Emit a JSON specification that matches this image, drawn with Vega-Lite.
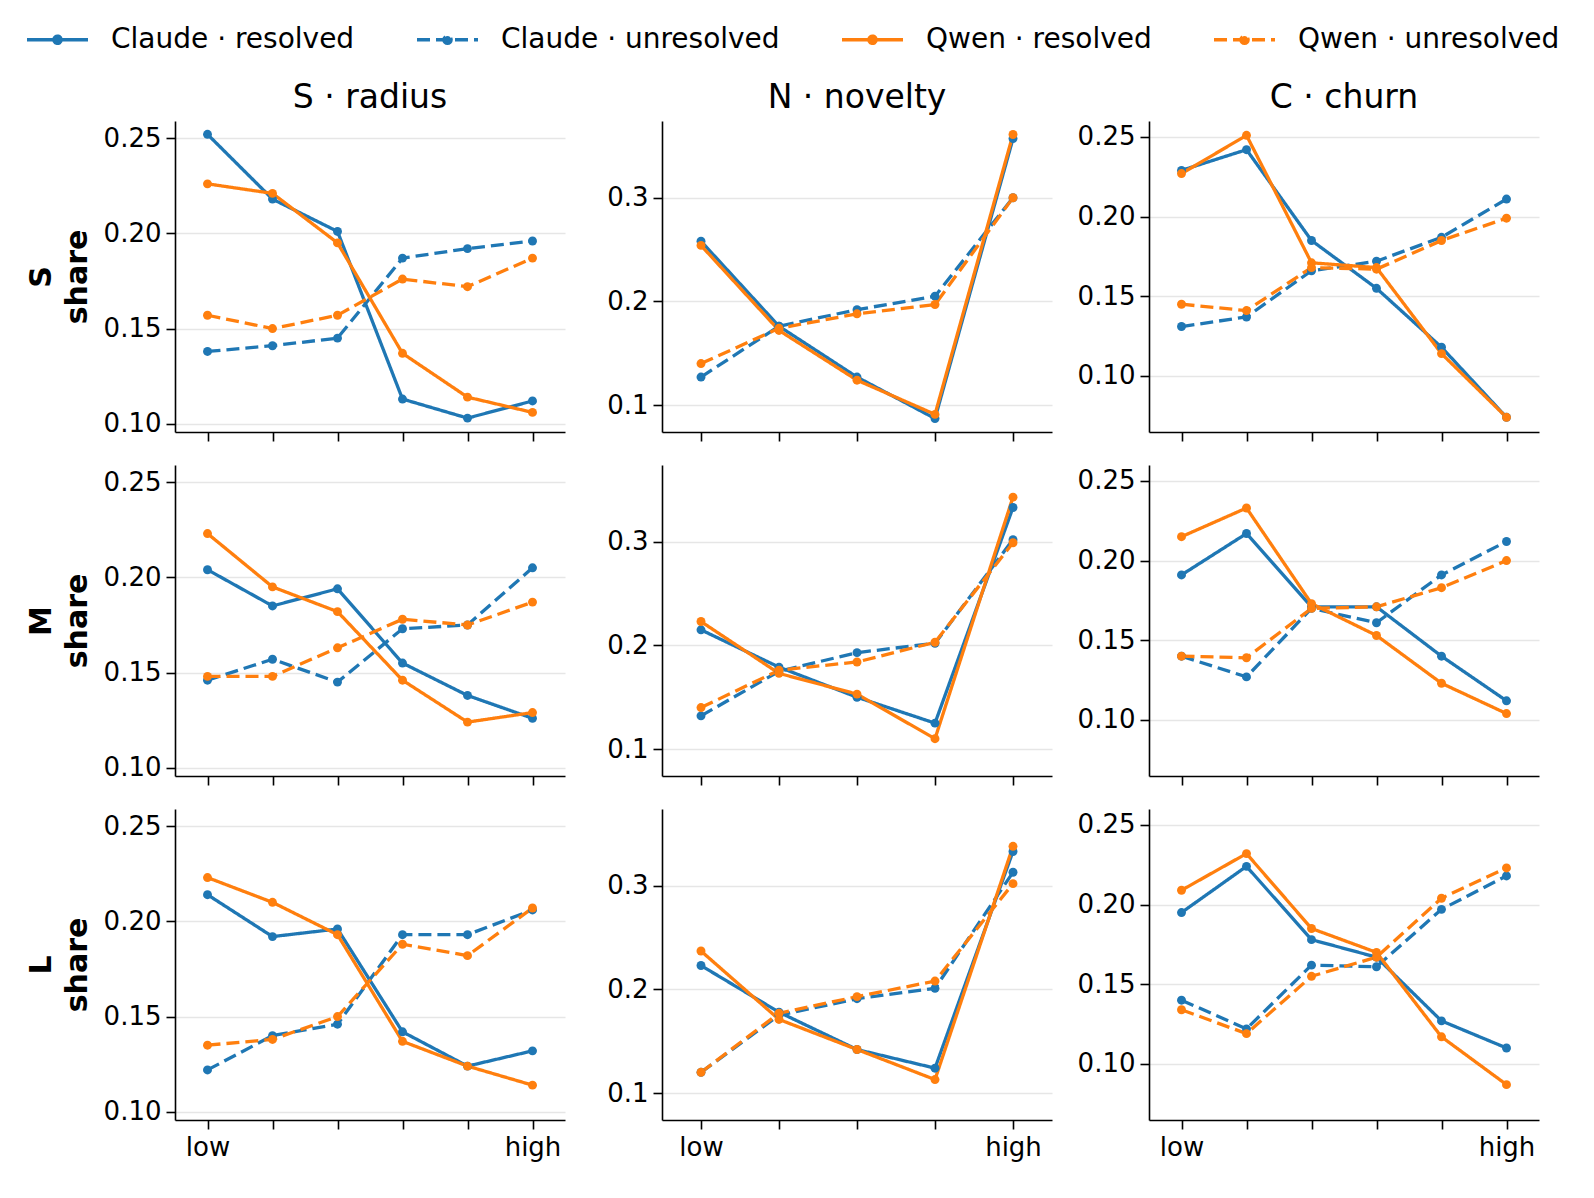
{
  "$schema": "https://vega.github.io/schema/vega-lite/v6.json",
  "padding": {"left": 25, "top": 7, "right": 5, "bottom": 5},
  "config": {
    "font": "DejaVu Sans",
    "view": {"stroke": null},
    "axis": {
      "domainColor": "black", "domainWidth": 1.6,
      "tickColor": "black", "tickWidth": 1.6, "tickSize": 9,
      "labelFontSize": 26, "labelColor": "black", "labelPadding": 5,
      "gridColor": "#e6e6e6", "gridWidth": 1.5,
      "titleFontSize": 30, "titleFontWeight": "bold", "titleColor": "black",
      "titleLineHeight": 36, "titlePadding": 11
    },
    "axisX": {"grid": false},
    "title": {"fontSize": 33, "fontWeight": "normal", "frame": "group", "offset": 6, "color": "black"},
    "legend": {
      "orient": "none", "legendX": -150, "legendY": -114,
      "direction": "horizontal", "columns": 4, "title": null,
      "symbolSize": 3721, "symbolStrokeWidth": 3.3, "labelFontSize": 28, "labelLimit": 500,
      "labelColor": "black", "columnPadding": 55, "labelOffset": 21
    }
  },
  "data": {
    "values": [
      {"dim": "radius", "size": "S", "series": "Claude · resolved", "bin": 0, "share": 0.252},
      {"dim": "radius", "size": "S", "series": "Claude · resolved", "bin": 1, "share": 0.218},
      {"dim": "radius", "size": "S", "series": "Claude · resolved", "bin": 2, "share": 0.201},
      {"dim": "radius", "size": "S", "series": "Claude · resolved", "bin": 3, "share": 0.113},
      {"dim": "radius", "size": "S", "series": "Claude · resolved", "bin": 4, "share": 0.103},
      {"dim": "radius", "size": "S", "series": "Claude · resolved", "bin": 5, "share": 0.112},
      {"dim": "radius", "size": "S", "series": "Claude · unresolved", "bin": 0, "share": 0.138},
      {"dim": "radius", "size": "S", "series": "Claude · unresolved", "bin": 1, "share": 0.141},
      {"dim": "radius", "size": "S", "series": "Claude · unresolved", "bin": 2, "share": 0.145},
      {"dim": "radius", "size": "S", "series": "Claude · unresolved", "bin": 3, "share": 0.187},
      {"dim": "radius", "size": "S", "series": "Claude · unresolved", "bin": 4, "share": 0.192},
      {"dim": "radius", "size": "S", "series": "Claude · unresolved", "bin": 5, "share": 0.196},
      {"dim": "radius", "size": "S", "series": "Qwen · resolved", "bin": 0, "share": 0.226},
      {"dim": "radius", "size": "S", "series": "Qwen · resolved", "bin": 1, "share": 0.221},
      {"dim": "radius", "size": "S", "series": "Qwen · resolved", "bin": 2, "share": 0.195},
      {"dim": "radius", "size": "S", "series": "Qwen · resolved", "bin": 3, "share": 0.137},
      {"dim": "radius", "size": "S", "series": "Qwen · resolved", "bin": 4, "share": 0.114},
      {"dim": "radius", "size": "S", "series": "Qwen · resolved", "bin": 5, "share": 0.106},
      {"dim": "radius", "size": "S", "series": "Qwen · unresolved", "bin": 0, "share": 0.157},
      {"dim": "radius", "size": "S", "series": "Qwen · unresolved", "bin": 1, "share": 0.150},
      {"dim": "radius", "size": "S", "series": "Qwen · unresolved", "bin": 2, "share": 0.157},
      {"dim": "radius", "size": "S", "series": "Qwen · unresolved", "bin": 3, "share": 0.176},
      {"dim": "radius", "size": "S", "series": "Qwen · unresolved", "bin": 4, "share": 0.172},
      {"dim": "radius", "size": "S", "series": "Qwen · unresolved", "bin": 5, "share": 0.187},

      {"dim": "radius", "size": "M", "series": "Claude · resolved", "bin": 0, "share": 0.204},
      {"dim": "radius", "size": "M", "series": "Claude · resolved", "bin": 1, "share": 0.185},
      {"dim": "radius", "size": "M", "series": "Claude · resolved", "bin": 2, "share": 0.194},
      {"dim": "radius", "size": "M", "series": "Claude · resolved", "bin": 3, "share": 0.155},
      {"dim": "radius", "size": "M", "series": "Claude · resolved", "bin": 4, "share": 0.138},
      {"dim": "radius", "size": "M", "series": "Claude · resolved", "bin": 5, "share": 0.126},
      {"dim": "radius", "size": "M", "series": "Claude · unresolved", "bin": 0, "share": 0.146},
      {"dim": "radius", "size": "M", "series": "Claude · unresolved", "bin": 1, "share": 0.157},
      {"dim": "radius", "size": "M", "series": "Claude · unresolved", "bin": 2, "share": 0.145},
      {"dim": "radius", "size": "M", "series": "Claude · unresolved", "bin": 3, "share": 0.173},
      {"dim": "radius", "size": "M", "series": "Claude · unresolved", "bin": 4, "share": 0.175},
      {"dim": "radius", "size": "M", "series": "Claude · unresolved", "bin": 5, "share": 0.205},
      {"dim": "radius", "size": "M", "series": "Qwen · resolved", "bin": 0, "share": 0.223},
      {"dim": "radius", "size": "M", "series": "Qwen · resolved", "bin": 1, "share": 0.195},
      {"dim": "radius", "size": "M", "series": "Qwen · resolved", "bin": 2, "share": 0.182},
      {"dim": "radius", "size": "M", "series": "Qwen · resolved", "bin": 3, "share": 0.146},
      {"dim": "radius", "size": "M", "series": "Qwen · resolved", "bin": 4, "share": 0.124},
      {"dim": "radius", "size": "M", "series": "Qwen · resolved", "bin": 5, "share": 0.129},
      {"dim": "radius", "size": "M", "series": "Qwen · unresolved", "bin": 0, "share": 0.148},
      {"dim": "radius", "size": "M", "series": "Qwen · unresolved", "bin": 1, "share": 0.148},
      {"dim": "radius", "size": "M", "series": "Qwen · unresolved", "bin": 2, "share": 0.163},
      {"dim": "radius", "size": "M", "series": "Qwen · unresolved", "bin": 3, "share": 0.178},
      {"dim": "radius", "size": "M", "series": "Qwen · unresolved", "bin": 4, "share": 0.175},
      {"dim": "radius", "size": "M", "series": "Qwen · unresolved", "bin": 5, "share": 0.187},

      {"dim": "radius", "size": "L", "series": "Claude · resolved", "bin": 0, "share": 0.214},
      {"dim": "radius", "size": "L", "series": "Claude · resolved", "bin": 1, "share": 0.192},
      {"dim": "radius", "size": "L", "series": "Claude · resolved", "bin": 2, "share": 0.196},
      {"dim": "radius", "size": "L", "series": "Claude · resolved", "bin": 3, "share": 0.142},
      {"dim": "radius", "size": "L", "series": "Claude · resolved", "bin": 4, "share": 0.124},
      {"dim": "radius", "size": "L", "series": "Claude · resolved", "bin": 5, "share": 0.132},
      {"dim": "radius", "size": "L", "series": "Claude · unresolved", "bin": 0, "share": 0.122},
      {"dim": "radius", "size": "L", "series": "Claude · unresolved", "bin": 1, "share": 0.140},
      {"dim": "radius", "size": "L", "series": "Claude · unresolved", "bin": 2, "share": 0.146},
      {"dim": "radius", "size": "L", "series": "Claude · unresolved", "bin": 3, "share": 0.193},
      {"dim": "radius", "size": "L", "series": "Claude · unresolved", "bin": 4, "share": 0.193},
      {"dim": "radius", "size": "L", "series": "Claude · unresolved", "bin": 5, "share": 0.206},
      {"dim": "radius", "size": "L", "series": "Qwen · resolved", "bin": 0, "share": 0.223},
      {"dim": "radius", "size": "L", "series": "Qwen · resolved", "bin": 1, "share": 0.210},
      {"dim": "radius", "size": "L", "series": "Qwen · resolved", "bin": 2, "share": 0.193},
      {"dim": "radius", "size": "L", "series": "Qwen · resolved", "bin": 3, "share": 0.137},
      {"dim": "radius", "size": "L", "series": "Qwen · resolved", "bin": 4, "share": 0.124},
      {"dim": "radius", "size": "L", "series": "Qwen · resolved", "bin": 5, "share": 0.114},
      {"dim": "radius", "size": "L", "series": "Qwen · unresolved", "bin": 0, "share": 0.135},
      {"dim": "radius", "size": "L", "series": "Qwen · unresolved", "bin": 1, "share": 0.138},
      {"dim": "radius", "size": "L", "series": "Qwen · unresolved", "bin": 2, "share": 0.150},
      {"dim": "radius", "size": "L", "series": "Qwen · unresolved", "bin": 3, "share": 0.188},
      {"dim": "radius", "size": "L", "series": "Qwen · unresolved", "bin": 4, "share": 0.182},
      {"dim": "radius", "size": "L", "series": "Qwen · unresolved", "bin": 5, "share": 0.207},

      {"dim": "novelty", "size": "S", "series": "Claude · resolved", "bin": 0, "share": 0.258},
      {"dim": "novelty", "size": "S", "series": "Claude · resolved", "bin": 1, "share": 0.176},
      {"dim": "novelty", "size": "S", "series": "Claude · resolved", "bin": 2, "share": 0.127},
      {"dim": "novelty", "size": "S", "series": "Claude · resolved", "bin": 3, "share": 0.087},
      {"dim": "novelty", "size": "S", "series": "Claude · resolved", "bin": 4, "share": 0.357},
      {"dim": "novelty", "size": "S", "series": "Claude · unresolved", "bin": 0, "share": 0.127},
      {"dim": "novelty", "size": "S", "series": "Claude · unresolved", "bin": 1, "share": 0.176},
      {"dim": "novelty", "size": "S", "series": "Claude · unresolved", "bin": 2, "share": 0.192},
      {"dim": "novelty", "size": "S", "series": "Claude · unresolved", "bin": 3, "share": 0.205},
      {"dim": "novelty", "size": "S", "series": "Claude · unresolved", "bin": 4, "share": 0.300},
      {"dim": "novelty", "size": "S", "series": "Qwen · resolved", "bin": 0, "share": 0.254},
      {"dim": "novelty", "size": "S", "series": "Qwen · resolved", "bin": 1, "share": 0.172},
      {"dim": "novelty", "size": "S", "series": "Qwen · resolved", "bin": 2, "share": 0.124},
      {"dim": "novelty", "size": "S", "series": "Qwen · resolved", "bin": 3, "share": 0.091},
      {"dim": "novelty", "size": "S", "series": "Qwen · resolved", "bin": 4, "share": 0.361},
      {"dim": "novelty", "size": "S", "series": "Qwen · unresolved", "bin": 0, "share": 0.140},
      {"dim": "novelty", "size": "S", "series": "Qwen · unresolved", "bin": 1, "share": 0.174},
      {"dim": "novelty", "size": "S", "series": "Qwen · unresolved", "bin": 2, "share": 0.188},
      {"dim": "novelty", "size": "S", "series": "Qwen · unresolved", "bin": 3, "share": 0.197},
      {"dim": "novelty", "size": "S", "series": "Qwen · unresolved", "bin": 4, "share": 0.300},

      {"dim": "novelty", "size": "M", "series": "Claude · resolved", "bin": 0, "share": 0.215},
      {"dim": "novelty", "size": "M", "series": "Claude · resolved", "bin": 1, "share": 0.179},
      {"dim": "novelty", "size": "M", "series": "Claude · resolved", "bin": 2, "share": 0.150},
      {"dim": "novelty", "size": "M", "series": "Claude · resolved", "bin": 3, "share": 0.125},
      {"dim": "novelty", "size": "M", "series": "Claude · resolved", "bin": 4, "share": 0.333},
      {"dim": "novelty", "size": "M", "series": "Claude · unresolved", "bin": 0, "share": 0.132},
      {"dim": "novelty", "size": "M", "series": "Claude · unresolved", "bin": 1, "share": 0.175},
      {"dim": "novelty", "size": "M", "series": "Claude · unresolved", "bin": 2, "share": 0.193},
      {"dim": "novelty", "size": "M", "series": "Claude · unresolved", "bin": 3, "share": 0.202},
      {"dim": "novelty", "size": "M", "series": "Claude · unresolved", "bin": 4, "share": 0.302},
      {"dim": "novelty", "size": "M", "series": "Qwen · resolved", "bin": 0, "share": 0.223},
      {"dim": "novelty", "size": "M", "series": "Qwen · resolved", "bin": 1, "share": 0.173},
      {"dim": "novelty", "size": "M", "series": "Qwen · resolved", "bin": 2, "share": 0.153},
      {"dim": "novelty", "size": "M", "series": "Qwen · resolved", "bin": 3, "share": 0.110},
      {"dim": "novelty", "size": "M", "series": "Qwen · resolved", "bin": 4, "share": 0.343},
      {"dim": "novelty", "size": "M", "series": "Qwen · unresolved", "bin": 0, "share": 0.140},
      {"dim": "novelty", "size": "M", "series": "Qwen · unresolved", "bin": 1, "share": 0.176},
      {"dim": "novelty", "size": "M", "series": "Qwen · unresolved", "bin": 2, "share": 0.184},
      {"dim": "novelty", "size": "M", "series": "Qwen · unresolved", "bin": 3, "share": 0.203},
      {"dim": "novelty", "size": "M", "series": "Qwen · unresolved", "bin": 4, "share": 0.299},

      {"dim": "novelty", "size": "L", "series": "Claude · resolved", "bin": 0, "share": 0.223},
      {"dim": "novelty", "size": "L", "series": "Claude · resolved", "bin": 1, "share": 0.178},
      {"dim": "novelty", "size": "L", "series": "Claude · resolved", "bin": 2, "share": 0.142},
      {"dim": "novelty", "size": "L", "series": "Claude · resolved", "bin": 3, "share": 0.124},
      {"dim": "novelty", "size": "L", "series": "Claude · resolved", "bin": 4, "share": 0.333},
      {"dim": "novelty", "size": "L", "series": "Claude · unresolved", "bin": 0, "share": 0.120},
      {"dim": "novelty", "size": "L", "series": "Claude · unresolved", "bin": 1, "share": 0.175},
      {"dim": "novelty", "size": "L", "series": "Claude · unresolved", "bin": 2, "share": 0.191},
      {"dim": "novelty", "size": "L", "series": "Claude · unresolved", "bin": 3, "share": 0.201},
      {"dim": "novelty", "size": "L", "series": "Claude · unresolved", "bin": 4, "share": 0.313},
      {"dim": "novelty", "size": "L", "series": "Qwen · resolved", "bin": 0, "share": 0.237},
      {"dim": "novelty", "size": "L", "series": "Qwen · resolved", "bin": 1, "share": 0.171},
      {"dim": "novelty", "size": "L", "series": "Qwen · resolved", "bin": 2, "share": 0.142},
      {"dim": "novelty", "size": "L", "series": "Qwen · resolved", "bin": 3, "share": 0.113},
      {"dim": "novelty", "size": "L", "series": "Qwen · resolved", "bin": 4, "share": 0.338},
      {"dim": "novelty", "size": "L", "series": "Qwen · unresolved", "bin": 0, "share": 0.120},
      {"dim": "novelty", "size": "L", "series": "Qwen · unresolved", "bin": 1, "share": 0.177},
      {"dim": "novelty", "size": "L", "series": "Qwen · unresolved", "bin": 2, "share": 0.193},
      {"dim": "novelty", "size": "L", "series": "Qwen · unresolved", "bin": 3, "share": 0.208},
      {"dim": "novelty", "size": "L", "series": "Qwen · unresolved", "bin": 4, "share": 0.302},

      {"dim": "churn", "size": "S", "series": "Claude · resolved", "bin": 0, "share": 0.229},
      {"dim": "churn", "size": "S", "series": "Claude · resolved", "bin": 1, "share": 0.242},
      {"dim": "churn", "size": "S", "series": "Claude · resolved", "bin": 2, "share": 0.185},
      {"dim": "churn", "size": "S", "series": "Claude · resolved", "bin": 3, "share": 0.155},
      {"dim": "churn", "size": "S", "series": "Claude · resolved", "bin": 4, "share": 0.118},
      {"dim": "churn", "size": "S", "series": "Claude · resolved", "bin": 5, "share": 0.074},
      {"dim": "churn", "size": "S", "series": "Claude · unresolved", "bin": 0, "share": 0.131},
      {"dim": "churn", "size": "S", "series": "Claude · unresolved", "bin": 1, "share": 0.137},
      {"dim": "churn", "size": "S", "series": "Claude · unresolved", "bin": 2, "share": 0.166},
      {"dim": "churn", "size": "S", "series": "Claude · unresolved", "bin": 3, "share": 0.172},
      {"dim": "churn", "size": "S", "series": "Claude · unresolved", "bin": 4, "share": 0.187},
      {"dim": "churn", "size": "S", "series": "Claude · unresolved", "bin": 5, "share": 0.211},
      {"dim": "churn", "size": "S", "series": "Qwen · resolved", "bin": 0, "share": 0.227},
      {"dim": "churn", "size": "S", "series": "Qwen · resolved", "bin": 1, "share": 0.251},
      {"dim": "churn", "size": "S", "series": "Qwen · resolved", "bin": 2, "share": 0.171},
      {"dim": "churn", "size": "S", "series": "Qwen · resolved", "bin": 3, "share": 0.168},
      {"dim": "churn", "size": "S", "series": "Qwen · resolved", "bin": 4, "share": 0.114},
      {"dim": "churn", "size": "S", "series": "Qwen · resolved", "bin": 5, "share": 0.074},
      {"dim": "churn", "size": "S", "series": "Qwen · unresolved", "bin": 0, "share": 0.145},
      {"dim": "churn", "size": "S", "series": "Qwen · unresolved", "bin": 1, "share": 0.141},
      {"dim": "churn", "size": "S", "series": "Qwen · unresolved", "bin": 2, "share": 0.168},
      {"dim": "churn", "size": "S", "series": "Qwen · unresolved", "bin": 3, "share": 0.167},
      {"dim": "churn", "size": "S", "series": "Qwen · unresolved", "bin": 4, "share": 0.185},
      {"dim": "churn", "size": "S", "series": "Qwen · unresolved", "bin": 5, "share": 0.199},

      {"dim": "churn", "size": "M", "series": "Claude · resolved", "bin": 0, "share": 0.191},
      {"dim": "churn", "size": "M", "series": "Claude · resolved", "bin": 1, "share": 0.217},
      {"dim": "churn", "size": "M", "series": "Claude · resolved", "bin": 2, "share": 0.171},
      {"dim": "churn", "size": "M", "series": "Claude · resolved", "bin": 3, "share": 0.171},
      {"dim": "churn", "size": "M", "series": "Claude · resolved", "bin": 4, "share": 0.140},
      {"dim": "churn", "size": "M", "series": "Claude · resolved", "bin": 5, "share": 0.112},
      {"dim": "churn", "size": "M", "series": "Claude · unresolved", "bin": 0, "share": 0.140},
      {"dim": "churn", "size": "M", "series": "Claude · unresolved", "bin": 1, "share": 0.127},
      {"dim": "churn", "size": "M", "series": "Claude · unresolved", "bin": 2, "share": 0.170},
      {"dim": "churn", "size": "M", "series": "Claude · unresolved", "bin": 3, "share": 0.161},
      {"dim": "churn", "size": "M", "series": "Claude · unresolved", "bin": 4, "share": 0.191},
      {"dim": "churn", "size": "M", "series": "Claude · unresolved", "bin": 5, "share": 0.212},
      {"dim": "churn", "size": "M", "series": "Qwen · resolved", "bin": 0, "share": 0.215},
      {"dim": "churn", "size": "M", "series": "Qwen · resolved", "bin": 1, "share": 0.233},
      {"dim": "churn", "size": "M", "series": "Qwen · resolved", "bin": 2, "share": 0.173},
      {"dim": "churn", "size": "M", "series": "Qwen · resolved", "bin": 3, "share": 0.153},
      {"dim": "churn", "size": "M", "series": "Qwen · resolved", "bin": 4, "share": 0.123},
      {"dim": "churn", "size": "M", "series": "Qwen · resolved", "bin": 5, "share": 0.104},
      {"dim": "churn", "size": "M", "series": "Qwen · unresolved", "bin": 0, "share": 0.140},
      {"dim": "churn", "size": "M", "series": "Qwen · unresolved", "bin": 1, "share": 0.139},
      {"dim": "churn", "size": "M", "series": "Qwen · unresolved", "bin": 2, "share": 0.170},
      {"dim": "churn", "size": "M", "series": "Qwen · unresolved", "bin": 3, "share": 0.171},
      {"dim": "churn", "size": "M", "series": "Qwen · unresolved", "bin": 4, "share": 0.183},
      {"dim": "churn", "size": "M", "series": "Qwen · unresolved", "bin": 5, "share": 0.200},

      {"dim": "churn", "size": "L", "series": "Claude · resolved", "bin": 0, "share": 0.195},
      {"dim": "churn", "size": "L", "series": "Claude · resolved", "bin": 1, "share": 0.224},
      {"dim": "churn", "size": "L", "series": "Claude · resolved", "bin": 2, "share": 0.178},
      {"dim": "churn", "size": "L", "series": "Claude · resolved", "bin": 3, "share": 0.167},
      {"dim": "churn", "size": "L", "series": "Claude · resolved", "bin": 4, "share": 0.127},
      {"dim": "churn", "size": "L", "series": "Claude · resolved", "bin": 5, "share": 0.110},
      {"dim": "churn", "size": "L", "series": "Claude · unresolved", "bin": 0, "share": 0.140},
      {"dim": "churn", "size": "L", "series": "Claude · unresolved", "bin": 1, "share": 0.122},
      {"dim": "churn", "size": "L", "series": "Claude · unresolved", "bin": 2, "share": 0.162},
      {"dim": "churn", "size": "L", "series": "Claude · unresolved", "bin": 3, "share": 0.161},
      {"dim": "churn", "size": "L", "series": "Claude · unresolved", "bin": 4, "share": 0.197},
      {"dim": "churn", "size": "L", "series": "Claude · unresolved", "bin": 5, "share": 0.218},
      {"dim": "churn", "size": "L", "series": "Qwen · resolved", "bin": 0, "share": 0.209},
      {"dim": "churn", "size": "L", "series": "Qwen · resolved", "bin": 1, "share": 0.232},
      {"dim": "churn", "size": "L", "series": "Qwen · resolved", "bin": 2, "share": 0.185},
      {"dim": "churn", "size": "L", "series": "Qwen · resolved", "bin": 3, "share": 0.170},
      {"dim": "churn", "size": "L", "series": "Qwen · resolved", "bin": 4, "share": 0.117},
      {"dim": "churn", "size": "L", "series": "Qwen · resolved", "bin": 5, "share": 0.087},
      {"dim": "churn", "size": "L", "series": "Qwen · unresolved", "bin": 0, "share": 0.134},
      {"dim": "churn", "size": "L", "series": "Qwen · unresolved", "bin": 1, "share": 0.119},
      {"dim": "churn", "size": "L", "series": "Qwen · unresolved", "bin": 2, "share": 0.155},
      {"dim": "churn", "size": "L", "series": "Qwen · unresolved", "bin": 3, "share": 0.167},
      {"dim": "churn", "size": "L", "series": "Qwen · unresolved", "bin": 4, "share": 0.204},
      {"dim": "churn", "size": "L", "series": "Qwen · unresolved", "bin": 5, "share": 0.223}
    ]
  },
  "columns": 3,
  "spacing": {"row": 23, "column": 22},
  "concat": [
    {
      "width": 390, "height": 311, "title": "S · radius",
      "transform": [{"filter": "datum.dim === 'radius' && datum.size === 'S'"}],
      "mark": {"type": "line", "strokeWidth": 3.3, "point": {"filled": true, "size": 80}},
      "encoding": {
        "x": {"field": "bin", "type": "quantitative", "scale": {"domain": [-0.5, 5.5], "nice": false, "zero": false}, "axis": {"values": [0, 1, 2, 3, 4, 5], "labels": false, "title": null}},
        "y": {"field": "share", "type": "quantitative", "scale": {"domain": [0.0957, 0.259], "nice": false, "zero": false}, "axis": {"values": [0.10, 0.15, 0.20, 0.25], "format": ".2f", "title": ["S", "share"]}},
        "color": {"field": "series", "type": "nominal", "scale": {"range": ["#1f77b4", "#1f77b4", "#ff7f0e", "#ff7f0e"]}, "legend": {"symbolType": "M-1,0H1M-0.12,0A0.12,0.12 0 1,0 0.12,0A0.12,0.12 0 1,0 -0.12,0"}},
        "strokeDash": {"field": "series", "type": "nominal", "scale": {"range": [[1, 0], [13, 6], [1, 0], [13, 6]]}}
      }
    },
    {
      "width": 390, "height": 311, "title": "N · novelty",
      "transform": [{"filter": "datum.dim === 'novelty' && datum.size === 'S'"}],
      "mark": {"type": "line", "strokeWidth": 3.3, "point": {"filled": true, "size": 80}},
      "encoding": {
        "x": {"field": "bin", "type": "quantitative", "scale": {"domain": [-0.5, 4.5], "nice": false, "zero": false}, "axis": {"values": [0, 1, 2, 3, 4], "labels": false, "title": null}},
        "y": {"field": "share", "type": "quantitative", "scale": {"domain": [0.074, 0.374], "nice": false, "zero": false}, "axis": {"values": [0.1, 0.2, 0.3], "format": ".1f", "title": null, "minExtent": 75, "maxExtent": 75}},
        "color": {"field": "series", "type": "nominal", "scale": {"range": ["#1f77b4", "#1f77b4", "#ff7f0e", "#ff7f0e"]}, "legend": {"symbolType": "M-1,0H1M-0.12,0A0.12,0.12 0 1,0 0.12,0A0.12,0.12 0 1,0 -0.12,0"}},
        "strokeDash": {"field": "series", "type": "nominal", "scale": {"range": [[1, 0], [13, 6], [1, 0], [13, 6]]}}
      }
    },
    {
      "width": 390, "height": 311, "title": "C · churn",
      "transform": [{"filter": "datum.dim === 'churn' && datum.size === 'S'"}],
      "mark": {"type": "line", "strokeWidth": 3.3, "point": {"filled": true, "size": 80}},
      "encoding": {
        "x": {"field": "bin", "type": "quantitative", "scale": {"domain": [-0.5, 5.5], "nice": false, "zero": false}, "axis": {"values": [0, 1, 2, 3, 4, 5], "labels": false, "title": null}},
        "y": {"field": "share", "type": "quantitative", "scale": {"domain": [0.0648, 0.26], "nice": false, "zero": false}, "axis": {"values": [0.10, 0.15, 0.20, 0.25], "format": ".2f", "title": null, "minExtent": 75, "maxExtent": 75}},
        "color": {"field": "series", "type": "nominal", "scale": {"range": ["#1f77b4", "#1f77b4", "#ff7f0e", "#ff7f0e"]}, "legend": {"symbolType": "M-1,0H1M-0.12,0A0.12,0.12 0 1,0 0.12,0A0.12,0.12 0 1,0 -0.12,0"}},
        "strokeDash": {"field": "series", "type": "nominal", "scale": {"range": [[1, 0], [13, 6], [1, 0], [13, 6]]}}
      }
    },
    {
      "width": 390, "height": 311,
      "transform": [{"filter": "datum.dim === 'radius' && datum.size === 'M'"}],
      "mark": {"type": "line", "strokeWidth": 3.3, "point": {"filled": true, "size": 80}},
      "encoding": {
        "x": {"field": "bin", "type": "quantitative", "scale": {"domain": [-0.5, 5.5], "nice": false, "zero": false}, "axis": {"values": [0, 1, 2, 3, 4, 5], "labels": false, "title": null}},
        "y": {"field": "share", "type": "quantitative", "scale": {"domain": [0.0957, 0.259], "nice": false, "zero": false}, "axis": {"values": [0.10, 0.15, 0.20, 0.25], "format": ".2f", "title": ["M", "share"]}},
        "color": {"field": "series", "type": "nominal", "scale": {"range": ["#1f77b4", "#1f77b4", "#ff7f0e", "#ff7f0e"]}, "legend": {"symbolType": "M-1,0H1M-0.12,0A0.12,0.12 0 1,0 0.12,0A0.12,0.12 0 1,0 -0.12,0"}},
        "strokeDash": {"field": "series", "type": "nominal", "scale": {"range": [[1, 0], [13, 6], [1, 0], [13, 6]]}}
      }
    },
    {
      "width": 390, "height": 311,
      "transform": [{"filter": "datum.dim === 'novelty' && datum.size === 'M'"}],
      "mark": {"type": "line", "strokeWidth": 3.3, "point": {"filled": true, "size": 80}},
      "encoding": {
        "x": {"field": "bin", "type": "quantitative", "scale": {"domain": [-0.5, 4.5], "nice": false, "zero": false}, "axis": {"values": [0, 1, 2, 3, 4], "labels": false, "title": null}},
        "y": {"field": "share", "type": "quantitative", "scale": {"domain": [0.074, 0.374], "nice": false, "zero": false}, "axis": {"values": [0.1, 0.2, 0.3], "format": ".1f", "title": null, "minExtent": 75, "maxExtent": 75}},
        "color": {"field": "series", "type": "nominal", "scale": {"range": ["#1f77b4", "#1f77b4", "#ff7f0e", "#ff7f0e"]}, "legend": {"symbolType": "M-1,0H1M-0.12,0A0.12,0.12 0 1,0 0.12,0A0.12,0.12 0 1,0 -0.12,0"}},
        "strokeDash": {"field": "series", "type": "nominal", "scale": {"range": [[1, 0], [13, 6], [1, 0], [13, 6]]}}
      }
    },
    {
      "width": 390, "height": 311,
      "transform": [{"filter": "datum.dim === 'churn' && datum.size === 'M'"}],
      "mark": {"type": "line", "strokeWidth": 3.3, "point": {"filled": true, "size": 80}},
      "encoding": {
        "x": {"field": "bin", "type": "quantitative", "scale": {"domain": [-0.5, 5.5], "nice": false, "zero": false}, "axis": {"values": [0, 1, 2, 3, 4, 5], "labels": false, "title": null}},
        "y": {"field": "share", "type": "quantitative", "scale": {"domain": [0.0648, 0.26], "nice": false, "zero": false}, "axis": {"values": [0.10, 0.15, 0.20, 0.25], "format": ".2f", "title": null, "minExtent": 75, "maxExtent": 75}},
        "color": {"field": "series", "type": "nominal", "scale": {"range": ["#1f77b4", "#1f77b4", "#ff7f0e", "#ff7f0e"]}, "legend": {"symbolType": "M-1,0H1M-0.12,0A0.12,0.12 0 1,0 0.12,0A0.12,0.12 0 1,0 -0.12,0"}},
        "strokeDash": {"field": "series", "type": "nominal", "scale": {"range": [[1, 0], [13, 6], [1, 0], [13, 6]]}}
      }
    },
    {
      "width": 390, "height": 311,
      "transform": [{"filter": "datum.dim === 'radius' && datum.size === 'L'"}],
      "mark": {"type": "line", "strokeWidth": 3.3, "point": {"filled": true, "size": 80}},
      "encoding": {
        "x": {"field": "bin", "type": "quantitative", "scale": {"domain": [-0.5, 5.5], "nice": false, "zero": false}, "axis": {"values": [0, 1, 2, 3, 4, 5], "labelExpr": "datum.value == 0 ? 'low' : datum.value == 5 ? 'high' : ''", "title": null}},
        "y": {"field": "share", "type": "quantitative", "scale": {"domain": [0.0957, 0.259], "nice": false, "zero": false}, "axis": {"values": [0.10, 0.15, 0.20, 0.25], "format": ".2f", "title": ["L", "share"]}},
        "color": {"field": "series", "type": "nominal", "scale": {"range": ["#1f77b4", "#1f77b4", "#ff7f0e", "#ff7f0e"]}, "legend": {"symbolType": "M-1,0H1M-0.12,0A0.12,0.12 0 1,0 0.12,0A0.12,0.12 0 1,0 -0.12,0"}},
        "strokeDash": {"field": "series", "type": "nominal", "scale": {"range": [[1, 0], [13, 6], [1, 0], [13, 6]]}}
      }
    },
    {
      "width": 390, "height": 311,
      "transform": [{"filter": "datum.dim === 'novelty' && datum.size === 'L'"}],
      "mark": {"type": "line", "strokeWidth": 3.3, "point": {"filled": true, "size": 80}},
      "encoding": {
        "x": {"field": "bin", "type": "quantitative", "scale": {"domain": [-0.5, 4.5], "nice": false, "zero": false}, "axis": {"values": [0, 1, 2, 3, 4], "labelExpr": "datum.value == 0 ? 'low' : datum.value == 4 ? 'high' : ''", "title": null}},
        "y": {"field": "share", "type": "quantitative", "scale": {"domain": [0.074, 0.374], "nice": false, "zero": false}, "axis": {"values": [0.1, 0.2, 0.3], "format": ".1f", "title": null, "minExtent": 75, "maxExtent": 75}},
        "color": {"field": "series", "type": "nominal", "scale": {"range": ["#1f77b4", "#1f77b4", "#ff7f0e", "#ff7f0e"]}, "legend": {"symbolType": "M-1,0H1M-0.12,0A0.12,0.12 0 1,0 0.12,0A0.12,0.12 0 1,0 -0.12,0"}},
        "strokeDash": {"field": "series", "type": "nominal", "scale": {"range": [[1, 0], [13, 6], [1, 0], [13, 6]]}}
      }
    },
    {
      "width": 390, "height": 311,
      "transform": [{"filter": "datum.dim === 'churn' && datum.size === 'L'"}],
      "mark": {"type": "line", "strokeWidth": 3.3, "point": {"filled": true, "size": 80}},
      "encoding": {
        "x": {"field": "bin", "type": "quantitative", "scale": {"domain": [-0.5, 5.5], "nice": false, "zero": false}, "axis": {"values": [0, 1, 2, 3, 4, 5], "labelExpr": "datum.value == 0 ? 'low' : datum.value == 5 ? 'high' : ''", "title": null}},
        "y": {"field": "share", "type": "quantitative", "scale": {"domain": [0.0648, 0.26], "nice": false, "zero": false}, "axis": {"values": [0.10, 0.15, 0.20, 0.25], "format": ".2f", "title": null, "minExtent": 75, "maxExtent": 75}},
        "color": {"field": "series", "type": "nominal", "scale": {"range": ["#1f77b4", "#1f77b4", "#ff7f0e", "#ff7f0e"]}, "legend": {"symbolType": "M-1,0H1M-0.12,0A0.12,0.12 0 1,0 0.12,0A0.12,0.12 0 1,0 -0.12,0"}},
        "strokeDash": {"field": "series", "type": "nominal", "scale": {"range": [[1, 0], [13, 6], [1, 0], [13, 6]]}}
      }
    }
  ]
}
